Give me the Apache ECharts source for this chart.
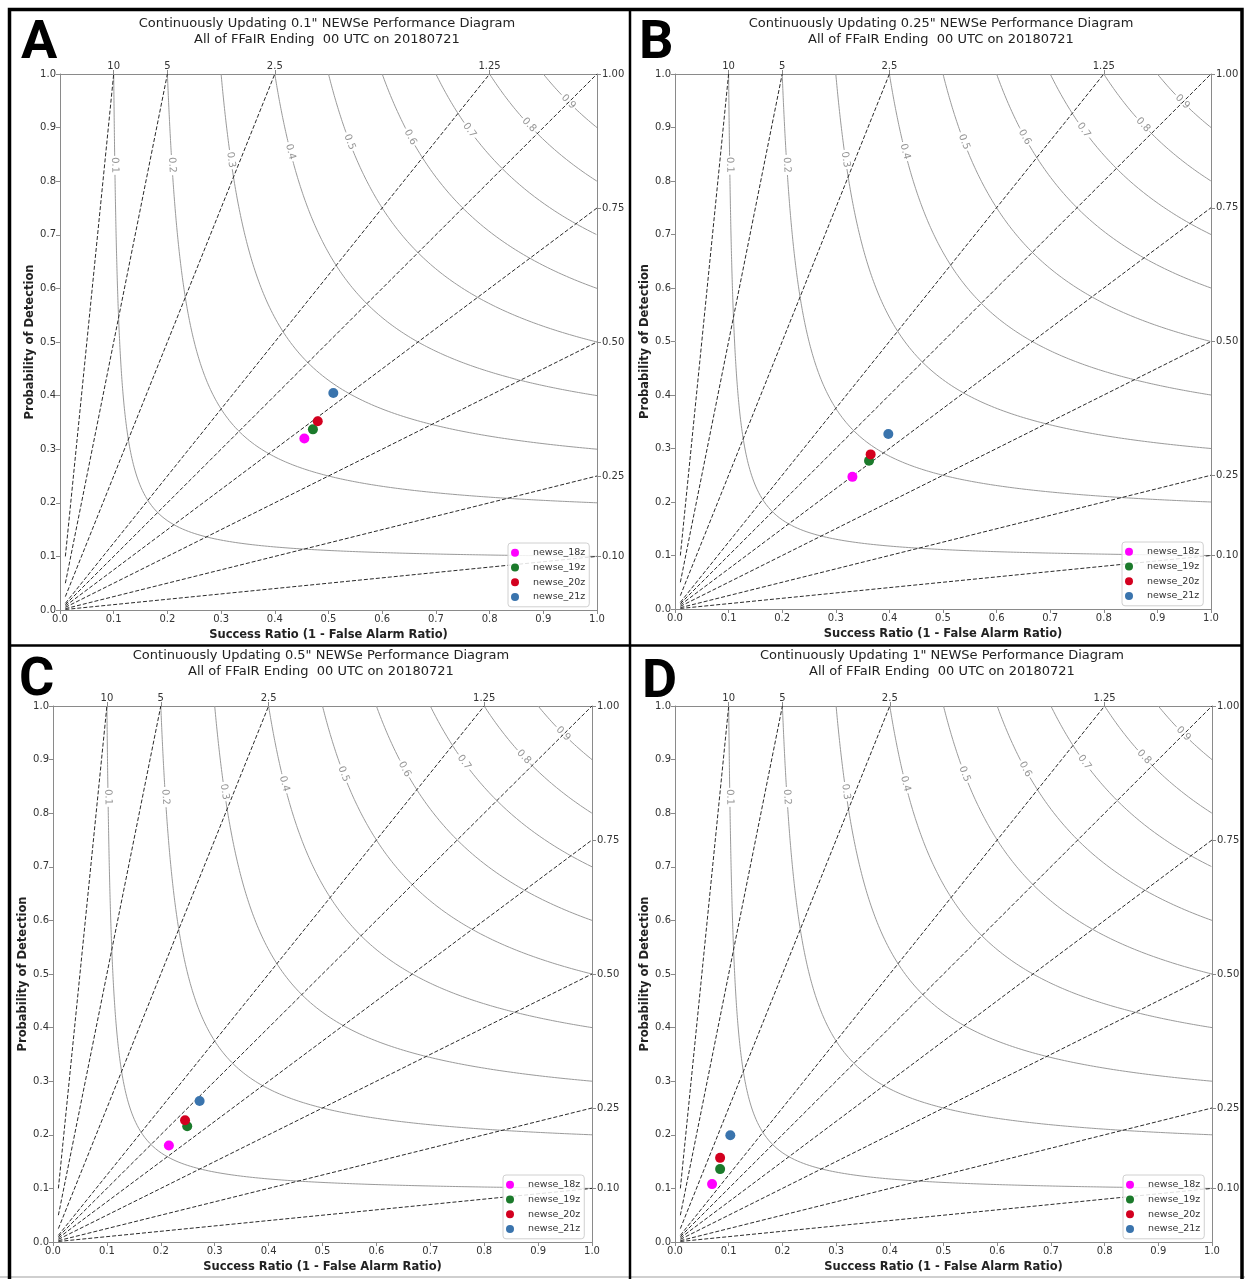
<!DOCTYPE html>
<html>
<head>
<meta charset="utf-8">
<title>NEWSe Performance Diagrams</title>
<script src="https://cdn.jsdelivr.net/npm/echarts@6/dist/echarts.min.js"></script>
<style>
  html, body { margin: 0; padding: 0; background: #fff; }
  #chart { width: 1245px; height: 1279px; }
</style>
</head>
<body>
<div id="chart"></div>
<script>
// runs shown in every panel
const runNames = ["newse_18z", "newse_19z", "newse_20z", "newse_21z"];
const runColors = ["#ff00ff", "#1b7a2b", "#d3001f", "#3a74ad"];

const panelLetters = ["A", "B", "C", "D"];
const panelThresholds = ['0.1"', '0.25"', '0.5"', '1"'];

// success ratio and probability of detection, one value per run
const srA = [0.455, 0.471, 0.480, 0.509];
const podA = [0.320, 0.337, 0.352, 0.405];
const srB = [0.331, 0.362, 0.365, 0.398];
const podB = [0.247, 0.277, 0.289, 0.327];
const srC = [0.215, 0.249, 0.245, 0.272];
const podC = [0.180, 0.216, 0.227, 0.263];
const srD = [0.069, 0.084, 0.084, 0.103];
const podD = [0.108, 0.136, 0.157, 0.199];

// background of the diagram
const csiLevels = [0.1, 0.2, 0.3, 0.4, 0.5, 0.6, 0.7, 0.8, 0.9];
const biasLevels = [10, 5, 2.5, 1.25, 1, 0.75, 0.5, 0.25, 0.1];
const topTickValues = [0.1, 0.2, 0.4, 0.8];
const topTickLabels = ["10", "5", "2.5", "1.25"];
const rightTickValues = [0.1, 0.25, 0.5, 0.75, 1.0];
const rightTickLabels = ["0.10", "0.25", "0.50", "0.75", "1.00"];

// where the csi labels sit (pod along each contour)
const csiLabelPod = [0.83, 0.83, 0.84, 0.855, 0.873, 0.882, 0.895, 0.905, 0.948];

const FONT = "DejaVu Sans";
const panels = [
    { left: 60, top: 74, width: 537, height: 536, sr: srA, pod: podA, titleX: 327 },
    { left: 675, top: 74, width: 536, height: 535, sr: srB, pod: podB, titleX: 941 },
    { left: 53, top: 706, width: 539, height: 536, sr: srC, pod: podC, titleX: 321 },
    { left: 675, top: 706, width: 537, height: 536, sr: srD, pod: podD, titleX: 942 }
];

function podOnCsi(c, sr) {
    return 1 / (1 / c + 1 - 1 / sr);
}

// csi contour split into two pieces around its label
function csiPieces(c, lab) {
    const p = 2 * c / (1 + c);
    const n = 300;
    const pts = [];
    for (let i = 0; i <= n; i++) {
        const pod = 1 - (1 - p) * i / n;
        pts.push([podOnCsi(c, pod), pod]);
    }
    for (let i = 1; i <= n; i++) {
        const sr = p + (1 - p) * i / n;
        pts.push([sr, podOnCsi(c, sr)]);
    }
    const r = 0.017;
    const before = [], after = [];
    let passed = false;
    pts.forEach(q => {
        const d = Math.hypot(q[0] - lab[0], q[1] - lab[1]);
        if (d < r) { passed = true; return; }
        (passed ? after : before).push(q);
    });
    return [before, after];
}

const xAxes = [], yAxes = [], grids = [], series = [], legends = [], titles = [];
const tickStyle = { color: "#8a8a8a" };

function baseAxis(i) {
    return {
        gridIndex: i,
        type: "value",
        min: 0,
        max: 1,
        interval: 0.1,
        axisLine: { show: true, onZero: false, lineStyle: { color: "#8a8a8a", width: 1 } },
        axisTick: { show: true, length: 4, lineStyle: tickStyle },
        axisLabel: { color: "#333", fontSize: 10, fontFamily: FONT, margin: 4,
            formatter: v => v.toFixed(1) },
        splitLine: { show: false }
    };
}

panels.forEach((p, i) => {
    grids.push({ left: p.left, top: p.top, width: p.width, height: p.height });

    const bottom = baseAxis(i);
    bottom.position = "bottom";
    bottom.name = "Success Ratio (1 - False Alarm Ratio)";
    bottom.nameLocation = "middle";
    bottom.nameGap = 19;
    bottom.nameTextStyle = { fontFamily: FONT, fontSize: 11.5, fontWeight: "bold", color: "#222" };
    const top = baseAxis(i);
    top.position = "top";
    top.axisTick = { show: true, length: 4, lineStyle: tickStyle, customValues: topTickValues };
    top.axisLabel = { color: "#333", fontSize: 10, fontFamily: FONT, margin: 3, customValues: topTickValues,
        formatter: v => topTickLabels[topTickValues.findIndex(t => Math.abs(t - v) < 1e-6)] };
    xAxes.push(bottom, top);

    const left = baseAxis(i);
    left.position = "left";
    left.name = "Probability of Detection";
    left.nameLocation = "middle";
    left.nameGap = 23;
    left.nameTextStyle = { fontFamily: FONT, fontSize: 11.5, fontWeight: "bold", color: "#222" };
    const right = baseAxis(i);
    right.position = "right";
    right.axisTick = { show: true, length: 4, lineStyle: tickStyle, customValues: rightTickValues };
    right.axisLabel = { color: "#333", fontSize: 10, fontFamily: FONT, margin: 5, customValues: rightTickValues,
        formatter: v => rightTickLabels[rightTickValues.findIndex(t => Math.abs(t - v) < 1e-6)] };
    yAxes.push(left, right);

    const xi = 2 * i, yi = 2 * i;

    // csi contours
    const labelData = [];
    csiLevels.forEach((c, k) => {
        const lp = csiLabelPod[k];
        const lab = [1 / (1 / c + 1 - 1 / lp), lp];
        csiPieces(c, lab).forEach(piece => {
            series.push({
                type: "line", xAxisIndex: xi, yAxisIndex: yi, data: piece,
                symbol: "none", silent: true, z: 1,
                lineStyle: { color: "#9a9a9a", width: 1 }
            });
        });
        const slope = -Math.pow(lab[1] / lab[0], 2) * (p.height / p.width);
        labelData.push({
            value: lab,
            label: { formatter: String(c), rotate: Math.atan(slope) * 180 / Math.PI }
        });
    });
    series.push({
        type: "scatter", xAxisIndex: xi, yAxisIndex: yi, data: labelData,
        symbolSize: 0, silent: true, z: 2,
        label: { show: true, position: "inside", color: "#7a7a7a", fontSize: 10, fontFamily: FONT }
    });

    // bias lines
    biasLevels.forEach(b => {
        const end = b >= 1 ? [1 / b, 1] : [1, b];
        series.push({
            type: "line", xAxisIndex: xi, yAxisIndex: yi, data: [[0.01, 0.01 * b], end],
            symbol: "none", silent: true, z: 3,
            lineStyle: { color: "#2a2a2a", width: 1, type: [4, 2] }
        });
    });

    // forecast runs
    runNames.forEach((name, k) => {
        series.push({
            name: name, type: "scatter", xAxisIndex: xi, yAxisIndex: yi,
            data: [[p.sr[k], p.pod[k]]], symbolSize: 10, z: 5,
            itemStyle: { color: runColors[k], opacity: 1 }
        });
    });

    legends.push({
        data: runNames, orient: "vertical",
        left: p.left + p.width - 89, top: p.top + p.height - 67,
        icon: "circle", itemWidth: 26, itemHeight: 8, itemGap: 3,
        padding: [4, 4, 4, 3],
        backgroundColor: "rgba(255,255,255,0.85)", borderColor: "#d0d0d0", borderWidth: 1, borderRadius: 3,
        textStyle: { fontFamily: FONT, fontSize: 9.5, color: "#333", lineHeight: 11.7, padding: 0 }
    });

    titles.push({
        text: "Continuously Updating " + panelThresholds[i] + " NEWSe Performance Diagram\nAll of FFaIR Ending  00 UTC on 20180721",
        left: p.titleX, top: p.top - 58, textAlign: "center", padding: 0,
        textStyle: { fontFamily: FONT, fontSize: 13, fontWeight: "normal", color: "#222", lineHeight: 16 }
    });
});

// panel letters
const letterPos = [[21, 17], [639, 17], [19, 654], [642, 656]];
panelLetters.forEach((l, i) => {
    titles.push({
        text: l, left: letterPos[i][0], top: letterPos[i][1], padding: 0,
        textStyle: { fontFamily: "Liberation Sans Narrow, Roboto, sans-serif", fontSize: 54, fontWeight: "bold", color: "#000" }
    });
});

const chart = echarts.init(document.getElementById("chart"), null, { renderer: "canvas" });
chart.setOption({
    animation: false,
    backgroundColor: "#fff",
    title: titles,
    grid: grids,
    xAxis: xAxes,
    yAxis: yAxes,
    legend: legends,
    series: series,
    graphic: [
        { type: "rect", shape: { x: 9.5, y: 9.5, width: 1232.5, height: 1290 },
          style: { fill: null, stroke: "#000", lineWidth: 3.5 }, z: 100 },
        { type: "line", shape: { x1: 630, y1: 9, x2: 630, y2: 1279 },
          style: { stroke: "#000", lineWidth: 2.5 }, z: 100 },
        { type: "line", shape: { x1: 9, y1: 645.5, x2: 1242, y2: 645.5 },
          style: { stroke: "#000", lineWidth: 2.5 }, z: 100 },
        { type: "line", shape: { x1: 0, y1: 1277, x2: 1245, y2: 1277 },
          style: { stroke: "#cfcfcf", lineWidth: 2 }, z: 99 }
    ]
});
</script>
</body>
</html>
